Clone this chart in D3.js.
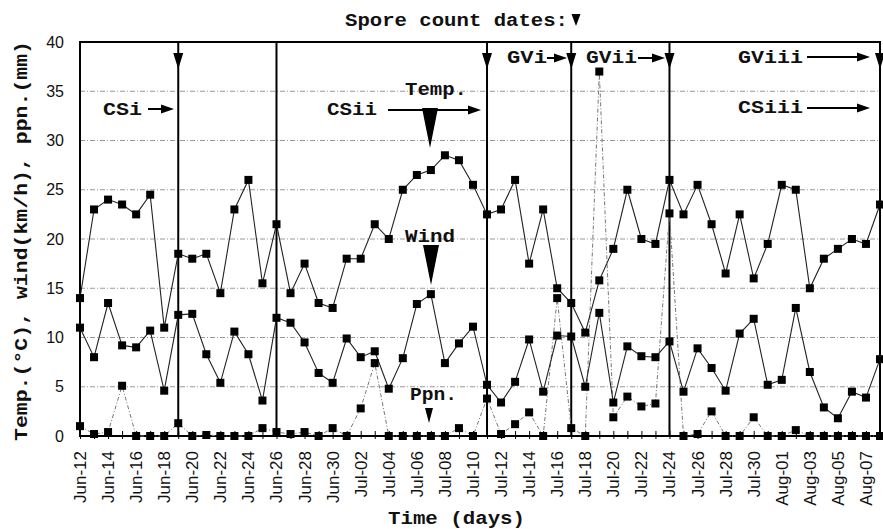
<!DOCTYPE html>
<html>
<head>
<meta charset="utf-8">
<script src="https://cdn.jsdelivr.net/npm/d3@7"></script>
<style>
  body { margin: 0; background: #fff; }
  svg { display: block; }
</style>
</head>
<body>
<div id="chart"></div>
<script>
const width = 883, height = 529;
const mono = "'Liberation Mono', 'DejaVu Sans Mono', monospace";
const sans = "'Liberation Sans', Arial, sans-serif";

// first and last day of the record
const firstDay = new Date(2000, 5, 12);
const lastDay = new Date(2000, 7, 8);

// daily values, Jun-12 .. Aug-08
const temp = [14, 23, 24, 23.5, 22.5, 24.5, 11, 18.5, 18, 18.5, 14.5, 23, 26, 15.5,
  21.5, 14.5, 17.5, 13.5, 13, 18, 18, 21.5, 20, 25, 26.5, 27, 28.5, 28, 25.5, 22.5,
  23, 26, 17.5, 23, 15, 13.5, 10.5, 15.8, 19, 25, 20, 19.5, 26, 22.5, 25.5, 21.5,
  16.5, 22.5, 16, 19.5, 25.5, 25, 15, 18, 19, 20, 19.5, 23.5];
const wind = [11, 8, 13.5, 9.2, 9, 10.7, 4.6, 12.3, 12.4, 8.3, 5.4, 10.6, 8.3, 3.6,
  12, 11.5, 9.5, 6.4, 5.4, 9.9, 8, 8.6, 4.8, 7.9, 13.4, 14.4, 7.4, 9.4, 11.1, 5.2,
  3.4, 5.5, 9.8, 4.5, 10.2, 10.1, 5, 12.5, 3.4, 9.1, 8.1, 8, 9.6, 4.5, 8.9, 6.9,
  4.6, 10.4, 11.9, 5.2, 5.7, 13, 6.5, 2.9, 1.8, 4.5, 3.9, 7.8];
const ppn = [1, 0.2, 0.4, 5.1, 0, 0, 0, 1.3, 0, 0.1, 0, 0, 0, 0.8,
  0.4, 0.2, 0.4, 0, 0.8, 0, 2.8, 7.4, 0, 0, 0, 0, 0, 0.8, 0, 3.8,
  0.2, 1.2, 2.4, 0, 14, 0.8, 0, 37, 1.9, 4, 3, 3.3, 22.6, 0, 0.2, 2.5,
  0, 0, 1.9, 0, 0, 0.6, 0, 0, 0, 0, 0, 0];

// spore count dates (vertical lines); the Jun-26 line has no marker
const sporeDates = ["2000-06-19", "2000-06-26", "2000-07-11", "2000-07-17", "2000-07-24", "2000-08-08"];
const sporeMarker = [true, false, true, true, true, true];

const yTicks = [0, 5, 10, 15, 20, 25, 30, 35, 40];

const days = d3.timeDay.range(firstDay, d3.timeDay.offset(lastDay, 1));
const parse = d3.timeParse("%Y-%m-%d");
const fmt = d3.timeFormat("%b-%d");

const x = d3.scaleTime().domain([firstDay, lastDay]).range([80, 880]);
const y = d3.scaleLinear().domain([0, 40]).range([436, 42]);

const svg = d3.select("#chart").append("svg")
    .attr("width", width)
    .attr("height", height);

// grid
svg.append("g")
    .selectAll("line")
    .data(yTicks.filter(d => d > 0 && d < 40))
    .join("line")
    .attr("x1", 80).attr("x2", 880)
    .attr("y1", d => y(d)).attr("y2", d => y(d))
    .attr("stroke", "#999")
    .attr("stroke-width", 1)
    .attr("stroke-dasharray", "5,2,1,2");

// y axis labels
const yAxis = svg.append("g")
    .attr("transform", "translate(80,0)")
    .call(d3.axisLeft(y).tickValues(yTicks).tickSize(0).tickPadding(16));
yAxis.select(".domain").remove();
yAxis.selectAll("text")
    .style("font-family", sans)
    .style("font-size", "16px")
    .attr("fill", "#111");

// x axis: a tick per day
const xAxis = svg.append("g")
    .attr("transform", "translate(0,436)")
    .call(d3.axisBottom(x).tickValues(days).tickFormat("").tickSizeOuter(0));
xAxis.select(".domain").remove();
xAxis.selectAll(".tick line")
    .attr("y1", -5).attr("y2", 3)
    .attr("stroke", "#000");

svg.append("g")
    .selectAll("text")
    .data(days.filter((d, i) => i % 2 === 0))
    .join("text")
    .attr("transform", d => `translate(${x(d) + 6},451) rotate(-90)`)
    .attr("text-anchor", "end")
    .style("font-family", sans)
    .style("font-size", "17px")
    .attr("fill", "#111")
    .text(d => fmt(d));

// frame
svg.append("rect")
    .attr("x", 80).attr("y", 42)
    .attr("width", 800).attr("height", 394)
    .attr("fill", "none")
    .attr("stroke", "#000")
    .attr("stroke-width", 2);

// spore count lines
svg.append("g")
    .selectAll("line")
    .data(sporeDates)
    .join("line")
    .attr("x1", d => x(parse(d))).attr("x2", d => x(parse(d)))
    .attr("y1", 42).attr("y2", 436)
    .attr("stroke", "#000")
    .attr("stroke-width", 2);

svg.append("g")
    .selectAll("path")
    .data(sporeDates.filter((d, i) => sporeMarker[i]))
    .join("path")
    .attr("d", d => {
        const px = x(parse(d));
        return `M${px - 5},53L${px + 5},53L${px},69Z`;
    })
    .attr("fill", "#000");

// series
const line = d3.line()
    .x((d, i) => x(days[i]))
    .y(d => y(d));

svg.append("path")
    .datum(ppn)
    .attr("d", line)
    .attr("fill", "none")
    .attr("stroke", "#777")
    .attr("stroke-width", 1)
    .attr("stroke-dasharray", "4,2,1,2");

[wind, temp].forEach(s => {
    svg.append("path")
        .datum(s)
        .attr("d", line)
        .attr("fill", "none")
        .attr("stroke", "#222")
        .attr("stroke-width", 1.1);
});

[ppn, wind, temp].forEach(s => {
    svg.append("g")
        .selectAll("rect")
        .data(s)
        .join("rect")
        .attr("x", (d, i) => x(days[i]) - 4)
        .attr("y", d => y(d) - 4)
        .attr("width", 8)
        .attr("height", 8)
        .attr("fill", "#000");
});

// annotations
function label(txt, px, py, len) {
    svg.append("text")
        .attr("x", px).attr("y", py)
        .attr("textLength", len)
        .attr("lengthAdjust", "spacingAndGlyphs")
        .style("font-family", mono)
        .style("font-weight", "bold")
        .style("font-size", "19px")
        .attr("fill", "#111")
        .text(txt);
}
function arrow(x1, x2, py) {
    svg.append("line")
        .attr("x1", x1).attr("x2", x2 - 8)
        .attr("y1", py).attr("y2", py)
        .attr("stroke", "#000")
        .attr("stroke-width", 2);
    svg.append("path")
        .attr("d", `M${x2},${py}L${x2 - 13},${py - 4.5}L${x2 - 13},${py + 4.5}Z`)
        .attr("fill", "#000");
}
function wedge(cx, top, bottom, half) {
    svg.append("path")
        .attr("d", `M${cx - half},${top}L${cx + half},${top}L${cx},${bottom}Z`)
        .attr("fill", "#000");
}

label("Spore count dates:", 345, 26, 223);
wedge(576, 14, 26, 4.5);

label("CSi", 103, 115, 39);
arrow(148, 174, 109);
label("CSii", 327, 115, 50);
arrow(388, 481, 110);
label("Temp.", 405, 95, 62);
wedge(430, 108, 148, 8);
label("Wind", 405, 242, 50);
wedge(431, 245, 285, 8);
label("Ppn.", 410, 400, 47);
wedge(429, 408, 423, 4);

label("GVi", 507, 63, 40);
arrow(547, 567, 58);
label("GVii", 586, 63, 51);
arrow(638, 665, 58);
label("GViii", 738, 63, 65);
arrow(807, 870, 57);
label("CSiii", 738, 113, 65);
arrow(807, 870, 108);

// axis titles
svg.append("text")
    .attr("transform", "translate(27,241) rotate(-90)")
    .attr("text-anchor", "middle")
    .attr("textLength", 400)
    .attr("lengthAdjust", "spacingAndGlyphs")
    .style("font-family", mono)
    .style("font-weight", "bold")
    .style("font-size", "19px")
    .attr("fill", "#111")
    .text("Temp.(°C),  wind(km/h),  ppn.(mm)");

label("Time (days)", 388, 524, 137);
</script>
</body>
</html>
